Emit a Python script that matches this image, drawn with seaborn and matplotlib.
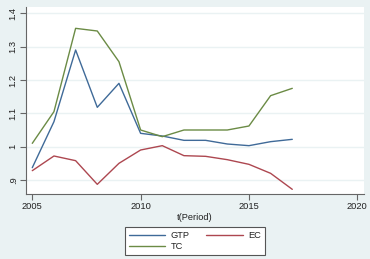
import matplotlib
matplotlib.use("Agg")
import matplotlib.pyplot as plt
import seaborn as sns
import pandas as pd

years = [2005, 2006, 2007, 2008, 2009, 2010, 2011, 2012, 2013, 2014, 2015, 2016, 2017]
gtp = [0.937, 1.075, 1.290, 1.118, 1.190, 1.040, 1.032, 1.019, 1.019, 1.008, 1.003, 1.015, 1.022]
ec = [0.928, 0.972, 0.958, 0.887, 0.950, 0.990, 1.003, 0.973, 0.971, 0.961, 0.947, 0.920, 0.872]
tc = [1.010, 1.105, 1.355, 1.347, 1.255, 1.050, 1.030, 1.050, 1.050, 1.050, 1.062, 1.153, 1.175]
series_names = ["GTP", "EC", "TC"]
y_ticks = [0.9, 1.0, 1.1, 1.2, 1.3, 1.4]
y_ticklabels = [".9", "1", "1.1", "1.2", "1.3", "1.4"]
x_ticks = [2005, 2010, 2015, 2020]
x_label = "t(Period)"

colors = {"GTP": "#3f6a98", "EC": "#ad4750", "TC": "#6b8b45"}

df = pd.DataFrame({
    "year": years * 3,
    "value": gtp + ec + tc,
    "series": [s for s in series_names for _ in years],
})

sns.set_theme(style="white")
plt.rcParams["font.family"] = ["Liberation Sans", "DejaVu Sans"]

bg = "#eaf2f3"
fig = plt.figure(figsize=(3.70, 2.59), dpi=100, facecolor=bg)
ax = fig.add_axes([26 / 370, 1 - 194 / 259, (364 - 26) / 370, (194 - 7) / 259])
ax.set_facecolor("white")

sns.lineplot(data=df, x="year", y="value", hue="series", hue_order=series_names,
             palette=colors, linewidth=1.0, ax=ax, legend=False)

ax.set_xlim(2004.71, 2020.31)
ax.set_ylim(0.858, 1.419)
ax.set_yticks(y_ticks)
ax.set_yticklabels(y_ticklabels, rotation=90, va="center")
ax.set_xticks(x_ticks)
ax.set_xticklabels([str(x) for x in x_ticks])
ax.grid(axis="y", color=bg, linewidth=1.0)
ax.grid(axis="x", visible=False)
ax.set_axisbelow(True)

for s in ["top", "right"]:
    ax.spines[s].set_visible(False)
for s in ["left", "bottom"]:
    ax.spines[s].set_color("#666666")
    ax.spines[s].set_linewidth(0.8)

ax.tick_params(axis="both", which="both", direction="out", length=4, width=0.8,
               color="#666666", labelsize=6.7, labelcolor="#222222", pad=2,
               left=True, bottom=True)
ax.set_xlabel(x_label, fontsize=6.7, color="#222222", labelpad=1)
ax.set_ylabel("")

from matplotlib.lines import Line2D
handles = {s: Line2D([], [], color=colors[s], linewidth=1.0) for s in series_names}
order = ["GTP", "TC", "EC"]
leg = fig.legend([handles[s] for s in order], order, ncol=2,
                 loc="center", bbox_to_anchor=(195 / 370, 1 - 241 / 259),
                 fontsize=6.7, frameon=True, fancybox=False,
                 handlelength=3.9, handletextpad=0.6, columnspacing=1.8,
                 labelspacing=0.25, borderpad=0.45)
leg.get_frame().set_edgecolor("#555555")
leg.get_frame().set_linewidth(0.8)
leg.get_frame().set_facecolor("white")
leg.get_frame().set_alpha(1)
for t in leg.get_texts():
    t.set_color("#222222")

fig.savefig("out.png", dpi=100, facecolor=bg)
